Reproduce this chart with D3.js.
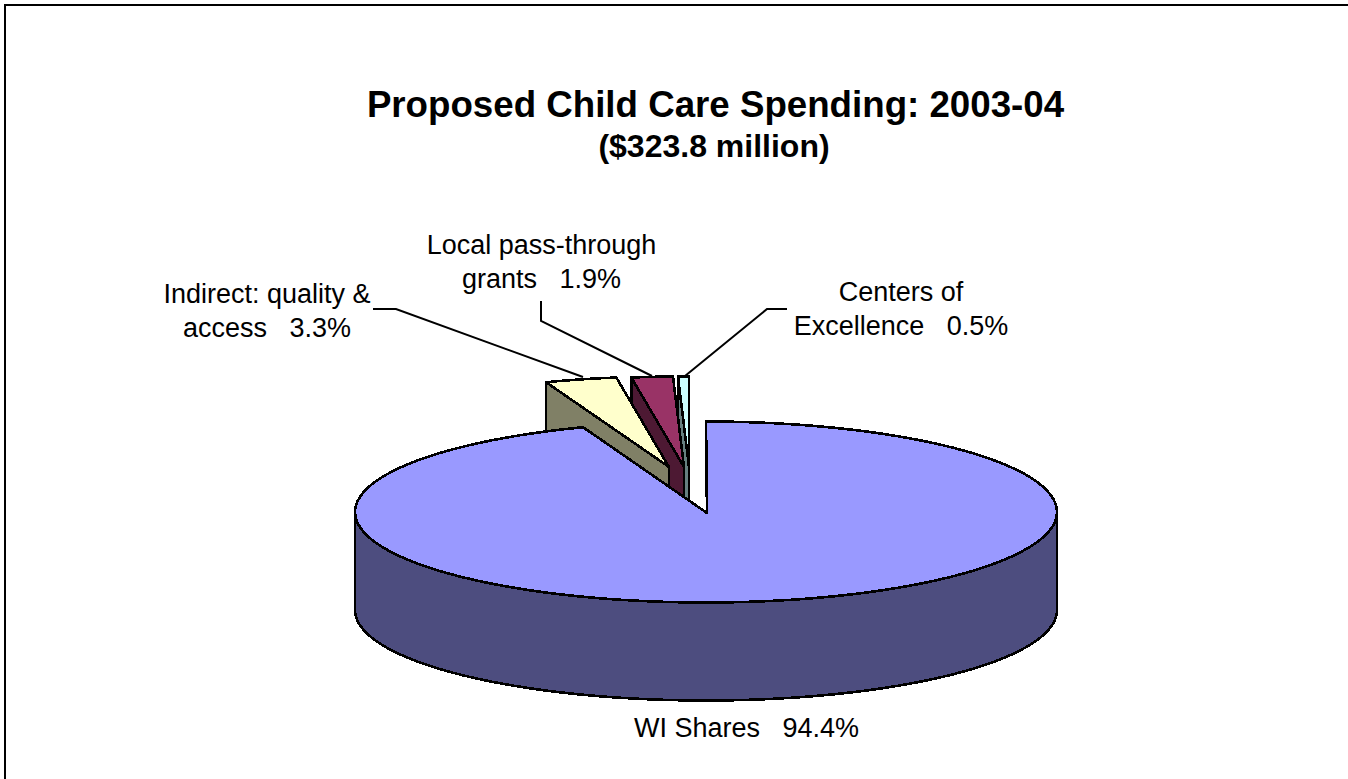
<!DOCTYPE html>
<html>
<head>
<meta charset="utf-8">
<script src="https://cdn.jsdelivr.net/npm/d3@7/dist/d3.min.js"></script>
<style>
  html, body { margin: 0; padding: 0; background: #fff; }
  svg { display: block; font-family: "Liberation Sans", Arial, sans-serif; }
</style>
</head>
<body>
<svg id="chart" width="1348" height="779"></svg>
<script>
// Budget shares, in percent, clockwise from twelve o'clock
const categories = ["WI Shares", "Indirect: quality & access", "Local pass-through grants", "Centers of Excellence"];
const shares = [94.4, 3.3, 1.9, 0.5];
const topColors = ["#9999FF", "#FFFFCC", "#993366", "#CCFFFF"];
const wallColors = ["#4D4D7F", "#808066", "#4D1933", "#668080"];

// Tilted disc geometry
const cx = 706, cy = 512, rx = 351, ry = 90.5, depth = 98;
// Where each pulled-out slice has its tip
const tips = [[707, 513], [669, 467], [684, 467], [689, 467]];

const svg = d3.select("#chart");
const xScale = d3.scaleLinear().domain([-1, 1]).range([-rx, rx]);
const yScale = d3.scaleLinear().domain([-1, 1]).range([ry, -ry]);

// Page frame: only its top and left edges fall inside the page
svg.append("path").attr("d", "M5,779V5H1348")
  .attr("fill", "none").attr("stroke", "#000").attr("stroke-width", 2);

const arcs = d3.pie().sort(null).value(d => d)(shares);
const project = (tip, a, dy = 0) => [tip[0] + xScale(Math.sin(a)), tip[1] + yScale(Math.cos(a)) + dy];
const samples = (a0, a1) => d3.range(0, 121).map(i => a0 + (a1 - a0) * i / 120);
const line = d3.line();

function strokeShape(points, fill) {
  svg.append("path").attr("d", line(points) + "Z")
    .attr("fill", fill).attr("stroke", "#000").attr("stroke-width", 2.6)
    .attr("stroke-linejoin", "round").attr("shape-rendering", "crispEdges");
}

// Slices are painted from the back forward; the big disc goes on last
[3, 2, 1].forEach(i => {
  const t = tips[i], a = arcs[i];
  const outer = project(t, a.startAngle);
  strokeShape([outer, t, [t[0], t[1] + depth], [outer[0], outer[1] + depth]], wallColors[i]);
  strokeShape([t, ...samples(a.startAngle, a.endAngle).map(s => project(t, s))], topColors[i]);
});

// Rim of the big disc, only its front half shows
const big = arcs[0], bt = [cx, cy];
const rim = samples(Math.PI / 2, 3 * Math.PI / 2);
strokeShape([...rim.map(s => project(bt, s)), ...rim.slice().reverse().map(s => project(bt, s, depth))], wallColors[0]);
strokeShape([tips[0], ...samples(big.startAngle, big.endAngle).map(s => project(bt, s))], topColors[0]);

// Leader lines
const leaders = [
  [[373, 309], [396, 309], [583, 377]],
  [[541, 301], [541, 321], [652, 376]],
  [[787, 309], [767, 309], [685, 376]]
];
leaders.forEach(l => svg.append("path").attr("d", line(l)).attr("fill", "none").attr("stroke", "#000").attr("stroke-width", 2));

// Title block
svg.append("text").attr("x", 715.5).attr("y", 117).attr("text-anchor", "middle")
  .attr("font-size", 36.7).attr("font-weight", "bold").text("Proposed Child Care Spending: 2003-04");
svg.append("text").attr("x", 714).attr("y", 157).attr("text-anchor", "middle")
  .attr("font-size", 32).attr("font-weight", "bold").text("($323.8 million)");

// Slice labels, the percentage taken from the data
const pct = i => d3.format(".1f")(shares[i]) + "%";
const labels = [
  { x: 746.5, lines: [{ y: 737, t: `WI Shares   ${pct(0)}` }] },
  { x: 267, lines: [{ y: 303, t: "Indirect: quality &" }, { y: 337, t: `access   ${pct(1)}` }] },
  { x: 541.5, lines: [{ y: 254, t: "Local pass-through" }, { y: 288, t: `grants   ${pct(2)}` }] },
  { x: 901, lines: [{ y: 301, t: "Centers of" }, { y: 335, t: `Excellence   ${pct(3)}` }] }
];
labels.forEach(l => l.lines.forEach(d =>
  svg.append("text").attr("x", l.x).attr("y", d.y).attr("text-anchor", "middle")
    .attr("font-size", 27).style("white-space", "pre").text(d.t)));
</script>
</body>
</html>
